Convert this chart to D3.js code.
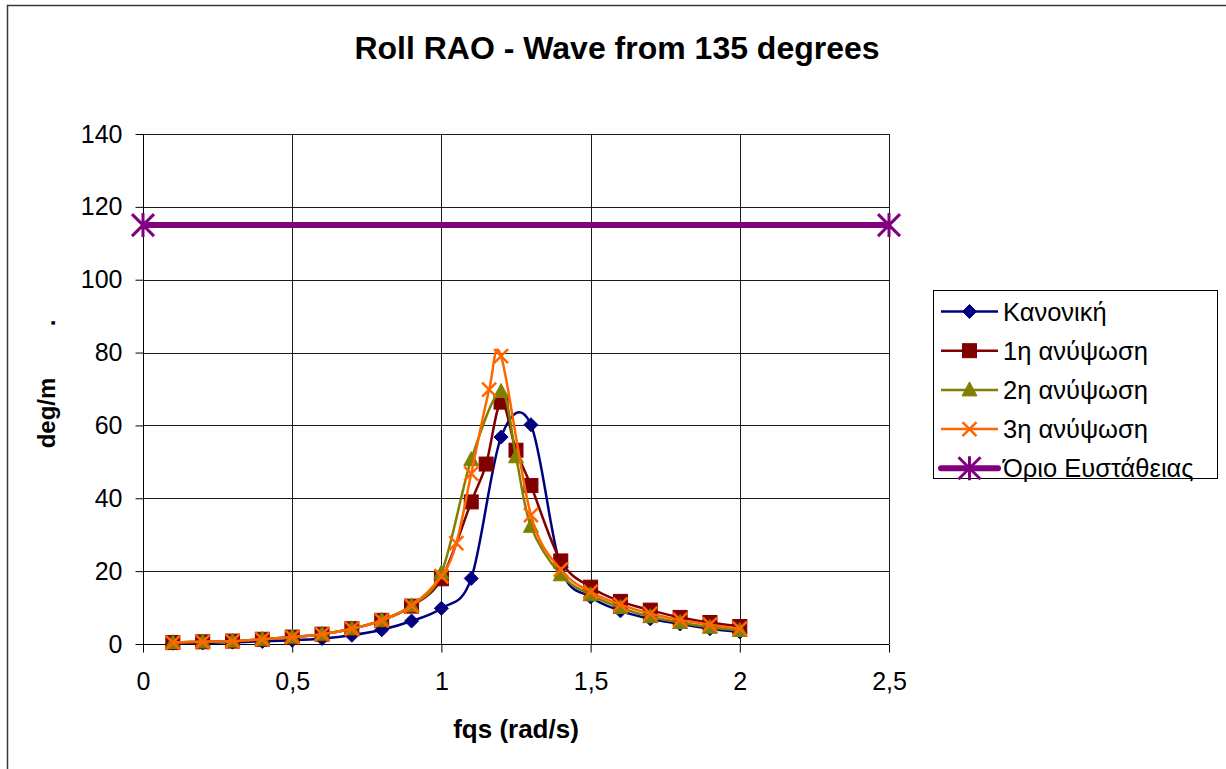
<!DOCTYPE html>
<html>
<head>
<meta charset="utf-8">
<script src="https://cdn.jsdelivr.net/npm/d3@7/dist/d3.min.js"></script>
<style>
  html, body { margin: 0; padding: 0; background: #fff; }
  svg { display: block; font-family: "Liberation Sans", Arial, sans-serif; }
</style>
</head>
<body>
<svg id="chart" width="1226" height="769"></svg>
<script>
// Roll RAO data, wave heading 135 degrees
const seriesNames = ["Κανονική", "1η ανύψωση", "2η ανύψωση", "3η ανύψωση", "Όριο Ευστάθειας"];

const xNormal = [0.1, 0.2, 0.3, 0.4, 0.5, 0.6, 0.7, 0.8, 0.9, 1.0, 1.1, 1.2, 1.3, 1.4, 1.5, 1.6, 1.7, 1.8, 1.9, 2.0];
const yNormal = [0.2, 0.3, 0.5, 0.7, 1.0, 1.5, 2.4, 3.9, 6.3, 9.8, 18.0, 56.8, 60.2, 21.0, 12.9, 9.1, 6.9, 5.5, 4.2, 3.3];

const xLift1 = [0.1, 0.2, 0.3, 0.4, 0.5, 0.6, 0.7, 0.8, 0.9, 1.0, 1.1, 1.15, 1.2, 1.25, 1.3, 1.4, 1.5, 1.6, 1.7, 1.8, 1.9, 2.0];
const yLift1 = [0.4, 0.6, 0.8, 1.3, 1.9, 2.7, 4.2, 6.5, 10.4, 17.9, 39.0, 49.4, 66.4, 53.2, 43.5, 22.8, 15.6, 11.7, 9.3, 7.3, 5.9, 4.8];

const xLift2 = [0.1, 0.2, 0.3, 0.4, 0.5, 0.6, 0.7, 0.8, 0.9, 1.0, 1.1, 1.2, 1.25, 1.3, 1.4, 1.5, 1.6, 1.7, 1.8, 1.9, 2.0];
const yLift2 = [0.4, 0.6, 0.8, 1.3, 1.9, 2.7, 4.2, 6.5, 10.5, 19.5, 50.6, 69.3, 51.4, 32.3, 19.0, 13.5, 10.0, 7.5, 5.9, 4.6, 3.7];

const xLift3 = [0.1, 0.2, 0.3, 0.4, 0.5, 0.6, 0.7, 0.8, 0.9, 1.0, 1.05, 1.1, 1.16, 1.2, 1.3, 1.4, 1.5, 1.6, 1.7, 1.8, 1.9, 2.0];
const yLift3 = [0.4, 0.6, 0.8, 1.3, 1.9, 2.7, 4.2, 6.5, 10.5, 18.6, 27.7, 46.8, 69.8, 79.0, 35.4, 20.4, 14.3, 10.8, 8.3, 6.6, 5.3, 4.2];

const xLimit = [0, 2.5];
const yLimit = [115, 115];

const xTicks = [0, 0.5, 1, 1.5, 2, 2.5];
const yTicks = [0, 20, 40, 60, 80, 100, 120, 140];

const colors = ["#000080", "#800000", "#808000", "#FF6600", "#800080"];
const markers = ["diamond", "square", "triangle", "cross", "star"];

const svg = d3.select("#chart");

// chart frame
svg.append("rect")
  .attr("x", 7.5).attr("y", 5.5).attr("width", 1300).attr("height", 900)
  .attr("fill", "#fff").attr("stroke", "#3a3a3a").attr("stroke-width", 1.5);

const plot = { left: 143, top: 134, right: 889, bottom: 644 };

const x = d3.scaleLinear().domain([0, 2.5]).range([plot.left, plot.right]);
const y = d3.scaleLinear().domain([0, 140]).range([plot.bottom, plot.top]);

const fmt = d => String(d).replace(".", ",");

// gridlines
const grid = svg.append("g");
grid.selectAll("line.h").data(yTicks.filter(d => d > 0)).join("line")
  .attr("x1", plot.left).attr("x2", plot.right)
  .attr("y1", d => Math.round(y(d)) + 0.5).attr("y2", d => Math.round(y(d)) + 0.5)
  .attr("stroke", "#1a1a1a").attr("stroke-width", 1);
grid.selectAll("line.v").data(xTicks.filter(d => d > 0)).join("line")
  .attr("y1", plot.top).attr("y2", plot.bottom)
  .attr("x1", d => Math.round(x(d)) + 0.5).attr("x2", d => Math.round(x(d)) + 0.5)
  .attr("stroke", "#1a1a1a").attr("stroke-width", 1);

// axes
const xAxis = d3.axisBottom(x).tickValues(xTicks).tickFormat(fmt).tickSize(8).tickPadding(20);
const yAxis = d3.axisLeft(y).tickValues(yTicks).tickSize(8).tickPadding(13);

const gx = svg.append("g").attr("transform", `translate(0,${plot.bottom + 0.5})`).call(xAxis);
const gy = svg.append("g").attr("transform", `translate(${plot.left + 0.5},0)`).call(yAxis);
[gx, gy].forEach(g => {
  g.select(".domain").attr("stroke", "#000").attr("stroke-width", 1);
  g.selectAll(".tick line").attr("stroke", "#000");
  g.selectAll(".tick text").attr("fill", "#000")
    .style("font-size", "25px").style("font-family", "'Liberation Sans', Arial, sans-serif");
});
gy.select(".domain").attr("d", `M0,${plot.top}V${plot.bottom}`);
gx.select(".domain").attr("d", `M${plot.left},0H${plot.right}`);

// marker shapes
function drawMarker(g, type, color, cx, cy) {
  if (type === "diamond") {
    g.append("path").attr("d", `M${cx},${cy - 7}L${cx + 7},${cy}L${cx},${cy + 7}L${cx - 7},${cy}Z`)
      .attr("fill", color).attr("stroke", color).attr("stroke-width", 1);
  } else if (type === "square") {
    g.append("rect").attr("x", cx - 7).attr("y", cy - 7).attr("width", 14).attr("height", 14)
      .attr("fill", color).attr("stroke", color).attr("stroke-width", 1);
  } else if (type === "triangle") {
    g.append("path").attr("d", `M${cx},${cy - 8}L${cx + 7.5},${cy + 6}L${cx - 7.5},${cy + 6}Z`)
      .attr("fill", color).attr("stroke", color).attr("stroke-width", 1);
  } else if (type === "cross") {
    g.append("path").attr("d", `M${cx - 7},${cy - 7}L${cx + 7},${cy + 7}M${cx + 7},${cy - 7}L${cx - 7},${cy + 7}`)
      .attr("fill", "none").attr("stroke", color).attr("stroke-width", 2.5);
  } else if (type === "star") {
    g.append("path").attr("d",
      `M${cx - 11},${cy - 11}L${cx + 11},${cy + 11}M${cx + 11},${cy - 11}L${cx - 11},${cy + 11}M${cx},${cy - 12}L${cx},${cy + 12}`)
      .attr("fill", "none").attr("stroke", color).attr("stroke-width", 3);
  }
}

const series = [
  { xs: xNormal, ys: yNormal },
  { xs: xLift1, ys: yLift1 },
  { xs: xLift2, ys: yLift2 },
  { xs: xLift3, ys: yLift3 },
  { xs: xLimit, ys: yLimit }
];

const smooth = d3.line().x(d => x(d[0])).y(d => y(d[1])).curve(d3.curveCatmullRom.alpha(0));
const straight = d3.line().x(d => x(d[0])).y(d => y(d[1]));

series.forEach((s, i) => {
  const pts = s.xs.map((v, j) => [v, s.ys[j]]);
  const g = svg.append("g");
  g.append("path")
    .attr("d", i === 4 ? straight(pts) : smooth(pts))
    .attr("fill", "none")
    .attr("stroke", colors[i])
    .attr("stroke-width", i === 4 ? 6 : 2.5)
    .attr("stroke-linejoin", "round");
  pts.forEach(p => drawMarker(g, markers[i], colors[i], x(p[0]), y(p[1])));
});

// title
svg.append("text")
  .attr("x", 617).attr("y", 59)
  .attr("text-anchor", "middle")
  .style("font-size", "32px").style("font-weight", "bold")
  .text("Roll RAO - Wave from 135 degrees");

// axis titles
svg.append("text")
  .attr("x", (plot.left + plot.right) / 2).attr("y", 738)
  .attr("text-anchor", "middle")
  .style("font-size", "26px").style("font-weight", "bold")
  .text("fqs (rad/s)");

svg.append("text")
  .attr("transform", "translate(55,413) rotate(-90)")
  .attr("text-anchor", "middle")
  .style("font-size", "24px").style("font-weight", "bold")
  .text("deg/m");
svg.append("text")
  .attr("transform", "translate(55,323) rotate(-90)")
  .attr("text-anchor", "middle")
  .style("font-size", "24px").style("font-weight", "bold")
  .text(".");

// legend
const legend = svg.append("g");
legend.append("rect")
  .attr("x", 933.5).attr("y", 290.5).attr("width", 284).attr("height", 188)
  .attr("fill", "#fff").attr("stroke", "#000").attr("stroke-width", 1);

seriesNames.forEach((name, i) => {
  const cy = 311.5 + i * 39.2;
  const row = legend.append("g");
  row.append("line")
    .attr("x1", 941).attr("x2", 998).attr("y1", cy).attr("y2", cy)
    .attr("stroke", colors[i]).attr("stroke-width", i === 4 ? 6 : 2.5)
    .attr("stroke-linecap", i === 4 ? "round" : "butt");
  drawMarker(row, markers[i], colors[i], 969.5, cy);
  row.append("text")
    .attr("x", 1003).attr("y", cy).attr("dy", "0.36em")
    .style("font-size", "25.5px")
    .text(name);
});
</script>
</body>
</html>
